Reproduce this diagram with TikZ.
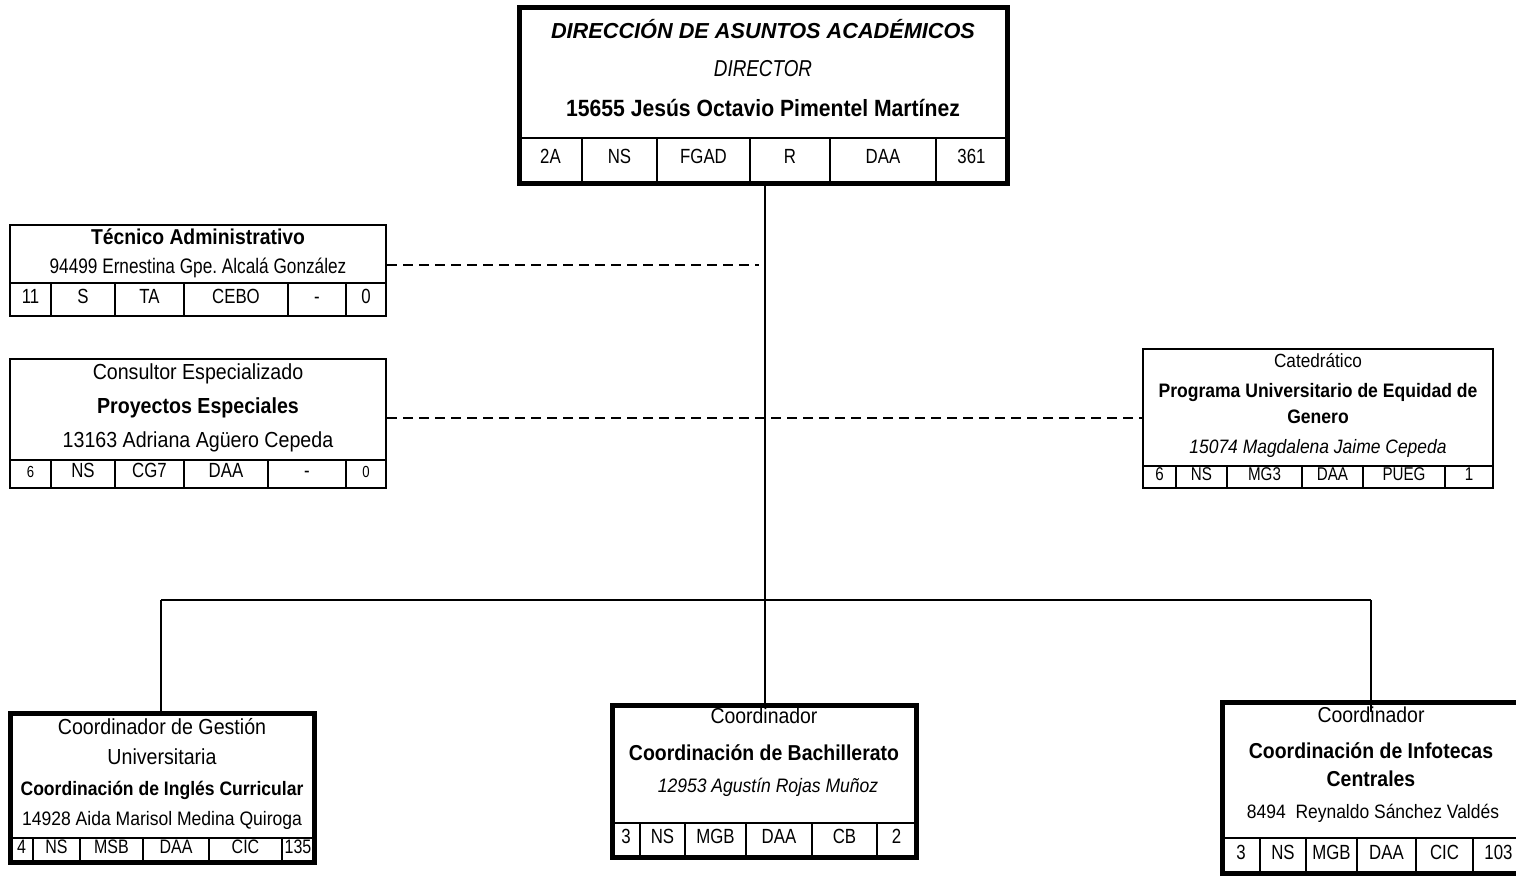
\documentclass[tikz,border=0pt]{standalone}
\usepackage{fontspec}
\setmainfont{Liberation Sans}
\newfontfamily\nf{Liberation Sans}[FakeStretch=0.9]
\newfontfamily\cf{Liberation Sans}[FakeStretch=0.82]
\frenchspacing
\usetikzlibrary{fit}
\tikzset{
  x=1pt, y=-1pt,
  thickbox/.style={draw=black, line width=5pt, inner sep=0pt, fill=white},
  thinbox/.style={draw=black, line width=2pt, inner sep=0pt, fill=white},
  divline/.style={line width=1.8pt},
  conn/.style={line width=2pt},
  dashconn/.style={line width=2pt, dash pattern=on 10pt off 6pt},
  wtxt/.style={inner sep=0pt, text height=0.72em, text depth=0pt, font=\fontsize{#1}{#1}\selectfont},
  txt/.style={inner sep=0pt, text height=0.72em, text depth=0pt, font=\nf\fontsize{#1}{#1}\selectfont},
  ntxt/.style={inner sep=0pt, text height=0.72em, text depth=0pt, font=\cf\fontsize{#1}{#1}\selectfont},
  cell/.style={inner sep=0pt, text height=0.72em, text depth=0pt, font=\cf\fontsize{#1}{#1}\selectfont},
}
% #1 prefix, #2 ytop, #3 ybot, #4 font size, #5 list a/b/text
\newcommand\cellrow[5]{%
  \foreach \a/\b/\t [count=\i] in {#5} {%
    \node[cell=#4] (#1-\i) at ({(\a+\b)/2},{(#2+#3)/2}) {\t};
    \draw[divline] (\b,#2) -- (\b,#3);
  }%
}
\begin{document}
\begin{tikzpicture}
\useasboundingbox (0,0) rectangle (1516,876);
\clip (0,0) rectangle (1516,876);
\fill[white] (0,0) rectangle (1516,876);

\coordinate (busL) at (161,600);
\coordinate (busM) at (765,600);
\coordinate (busR) at (1371,600);
\coordinate (infoTop) at (1371,712);
\coordinate (dashA) at (759,265);
\coordinate (dashB) at (765,418);

% ---------- boxes ----------
\node[thickbox, fit={(519,7) (1007,183)}] (dir) {};
\node[thinbox, fit={(10,225) (386,316)}] (tec) {};
\node[thinbox, fit={(10,359) (386,488)}] (cons) {};
\node[thinbox, fit={(1143,349) (1493,488)}] (cat) {};
\node[thickbox, fit={(10,713) (314,862)}] (gest) {};
\node[thickbox, fit={(612,705) (916,857)}] (bach) {};
\node[thickbox, fit={(1222,702) (1524,873)}] (info) {};

% ---------- connectors ----------
\draw[conn] (dir.south -| busM) -- (bach.north -| busM);
\draw[conn] (busL) -- (busR);
\draw[conn] (busL) -- (gest.north -| busL);
\draw[conn] (busR) -- (infoTop);
\draw[dashconn] (dashA -| tec.east) -- (dashA);
\draw[dashconn] (dashB -| cons.east) -- (dashB -| cat.west);

% ---------- director ----------
\node[wtxt=21.7] (dir-t1) at (763,35) {\bfseries\itshape DIRECCIÓN DE ASUNTOS ACADÉMICOS};
\node[ntxt=23] (dir-t2) at (763,73) {\itshape DIRECTOR};
\node[txt=23.5] (dir-t3) at (763,113) {\bfseries 15655 Jesús Octavio Pimentel Martínez};
\draw[divline] (519,138) -- (1007,138);
\cellrow{dirc}{138}{181}{20.5}{519/582/2A, 582/657/NS, 657/750/FGAD, 750/830/R, 830/936/DAA, 936/1007/361}

% ---------- tecnico ----------
\node[txt=21.5] (tec-t1) at (198,241) {\bfseries Técnico Administrativo};
\node[ntxt=21] (tec-t2) at (198,270) {94499 Ernestina Gpe. Alcalá González};
\draw[divline] (10,283) -- (386,283);
\cellrow{tecc}{283}{316}{20.5}{10/51/11, 51/115/S, 115/184/TA, 184/288/CEBO, 288/346/-, 346/386/0}

% ---------- consultor ----------
\node[txt=21.8] (cons-t1) at (198,376) {Consultor Especializado};
\node[txt=21.8] (cons-t2) at (198,410) {\bfseries Proyectos Especiales};
\node[txt=21.8] (cons-t3) at (198,444) {13163 Adriana Agüero Cepeda};
\draw[divline] (10,460) -- (386,460);
\cellrow{consc}{460}{488}{20.5}{10/51/{\fontsize{16}{16}\selectfont 6}, 51/115/NS, 115/184/CG7, 184/268/DAA, 268/346/-, 346/386/{\fontsize{16}{16}\selectfont 0}}

% ---------- catedratico ----------
\node[txt=19.1] (cat-t1) at (1318,364) {Catedrático};
\node[txt=19.5] (cat-t2) at (1318,394) {\bfseries Programa Universitario de Equidad de};
\node[txt=19.5] (cat-t3) at (1318,420) {\bfseries Genero};
\node[txt=19.4] (cat-t4) at (1318,450) {\itshape 15074 Magdalena Jaime Cepeda};
\draw[divline] (1143,466) -- (1493,466);
\cellrow{catc}{466}{488}{18.5}{1143/1176/6, 1176/1227/NS, 1227/1302/MG3, 1302/1363/DAA, 1363/1445/PUEG, 1445/1493/1}

% ---------- gestion ----------
\node[txt=21.8] (gest-t1) at (162,731) {Coordinador de Gestión};
\node[txt=21.8] (gest-t2) at (162,761) {Universitaria};
\node[txt=19.5] (gest-t3) at (162,792) {\bfseries Coordinación de Inglés Curricular};
\node[txt=19.5] (gest-t4) at (162,822) {14928 Aida Marisol Medina Quiroga};
\draw[divline] (10,838) -- (314,838);
\cellrow{gestc}{838}{861}{19.5}{10/33/4, 33/80/NS, 80/143/MSB, 143/209/DAA, 209/282/CIC, 282/314/135}

% ---------- bachillerato ----------
\node[txt=21.6] (bach-t1) at (764,720) {Coordinador};
\node[txt=21.6] (bach-t2) at (764,757) {\bfseries Coordinación de Bachillerato};
\node[txt=19.5] (bach-t3) at (768,789) {\itshape 12953 Agustín Rojas Muñoz};
\draw[divline] (612,823) -- (916,823);
\cellrow{bachc}{823}{857}{20.5}{612/640/3, 640/685/NS, 685/746/MGB, 746/812/DAA, 812/877/CB, 877/916/2}

% ---------- infotecas ----------
\node[txt=21.6] (info-t1) at (1371,719) {Coordinador};
\node[txt=21.6] (info-t2) at (1371,755) {\bfseries Coordinación de Infotecas};
\node[txt=21.6] (info-t3) at (1371,783) {\bfseries Centrales};
\node[txt=19.4] (info-t4) at (1373,815) {8494\ \ Reynaldo Sánchez Valdés};
\draw[divline] (1222,838) -- (1524,838);
\cellrow{infoc}{838}{873}{20.5}{1222/1260/3, 1260/1306/NS, 1306/1357/MGB, 1357/1416/DAA, 1416/1473/CIC, 1473/1524/103}
\end{tikzpicture}
\end{document}
